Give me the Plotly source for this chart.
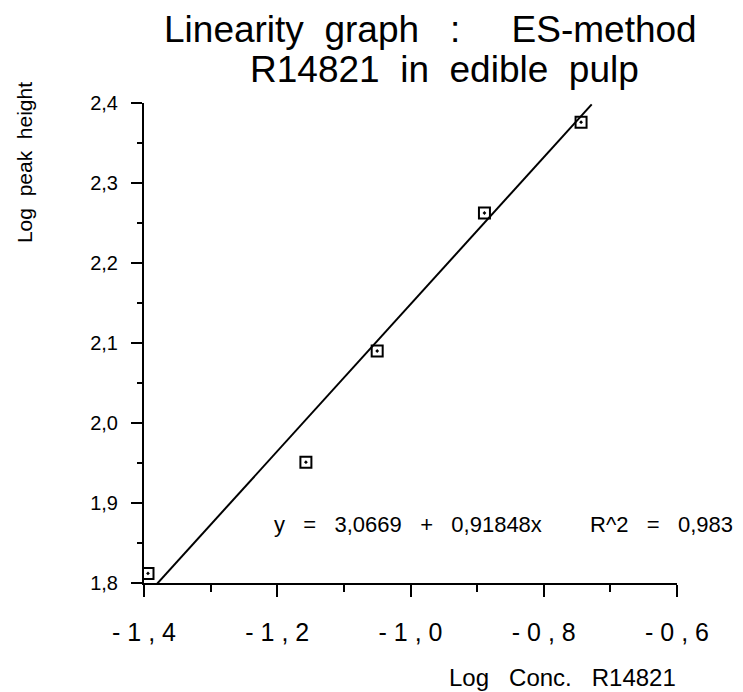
import plotly.graph_objects as go

# Data
log_conc = [-1.394, -1.157, -1.050, -0.889, -0.744]
log_peak = [1.812, 1.951, 2.090, 2.2625, 2.376]

# Regression reported on the chart
intercept = 3.0669
slope = 0.91848
fit_x = [-1.383, -0.728]
fit_y = [intercept + slope * v for v in fit_x]

x_tickvals = [-1.4, -1.2, -1.0, -0.8, -0.6]
x_ticktext = ["- 1 , 4", "- 1 , 2", "- 1 , 0", "- 0 , 8", "- 0 , 6"]
y_tickvals = [1.8, 1.9, 2.0, 2.1, 2.2, 2.3, 2.4]
y_ticktext = ["1,8", "1,9", "2,0", "2,1", "2,2", "2,3", "2,4"]

FONT = "Liberation Sans, Arial, Helvetica, sans-serif"

fig = go.Figure()
fig.add_trace(go.Scatter(
    x=fit_x, y=fit_y, mode="lines",
    line=dict(color="black", width=2), showlegend=False, hoverinfo="skip"))
fig.add_trace(go.Scatter(
    x=log_conc, y=log_peak, mode="markers",
    marker=dict(symbol="square-open-dot", size=11, color="black",
                line=dict(color="black", width=2)),
    showlegend=False))

fig.update_layout(
    width=743, height=692,
    margin=dict(l=144, r=66, t=103, b=109),
    paper_bgcolor="white", plot_bgcolor="white",
    font=dict(family=FONT, color="black"),
    xaxis=dict(range=[-1.4, -0.6], showgrid=False, zeroline=False,
               showline=True, linecolor="black", linewidth=2,
               ticks="outside", tickcolor="black", ticklen=12, tickwidth=2,
               tickvals=x_tickvals, ticktext=x_ticktext,
               ticklabelstandoff=14,
               tickfont=dict(size=25, family=FONT),
               minor=dict(dtick=0.1, ticks="outside", ticklen=7,
                          tickcolor="black", tickwidth=2, showgrid=False)),
    yaxis=dict(range=[1.8, 2.4], showgrid=False, zeroline=False,
               showline=True, linecolor="black", linewidth=2,
               ticks="outside", tickcolor="black", ticklen=11, tickwidth=2,
               tickvals=y_tickvals, ticktext=y_ticktext,
               ticklabelstandoff=9,
               tickfont=dict(size=20, family=FONT),
               minor=dict(dtick=0.05, ticks="outside", ticklen=5,
                          tickcolor="black", tickwidth=2, showgrid=False)),
    annotations=[
        dict(text="Linearity  graph   :     ES-method", xref="paper", yref="paper",
             x=(430 - 144) / 533, y=1.154, xanchor="center", yanchor="middle",
             showarrow=False, font=dict(size=37, family=FONT)),
        dict(text="R14821  in  edible  pulp", xref="paper", yref="paper",
             x=(444 - 144) / 533, y=1.069, xanchor="center", yanchor="middle",
             showarrow=False, font=dict(size=37, family=FONT)),
        dict(text="Log  peak  height", xref="paper", yref="paper",
             x=-0.225, y=0.875, xanchor="center", yanchor="middle",
             textangle=-90, showarrow=False, font=dict(size=21, family=FONT)),
        dict(text="Log   Conc.   R14821", xref="paper", yref="paper",
             x=(447 - 144) / 533, y=-0.196, xanchor="left", yanchor="middle",
             showarrow=False, font=dict(size=24, family=FONT)),
        dict(text="y   =   3,0669   +   0,91848x", xref="paper", yref="paper",
             x=(272 - 144) / 533, y=0.121, xanchor="left", yanchor="middle",
             showarrow=False, font=dict(size=22, family=FONT)),
        dict(text="R^2   =   0,983", xref="paper", yref="paper",
             x=(588 - 144) / 533, y=0.121, xanchor="left", yanchor="middle",
             showarrow=False, font=dict(size=22, family=FONT)),
    ],
)

fig.write_html("out.html")
